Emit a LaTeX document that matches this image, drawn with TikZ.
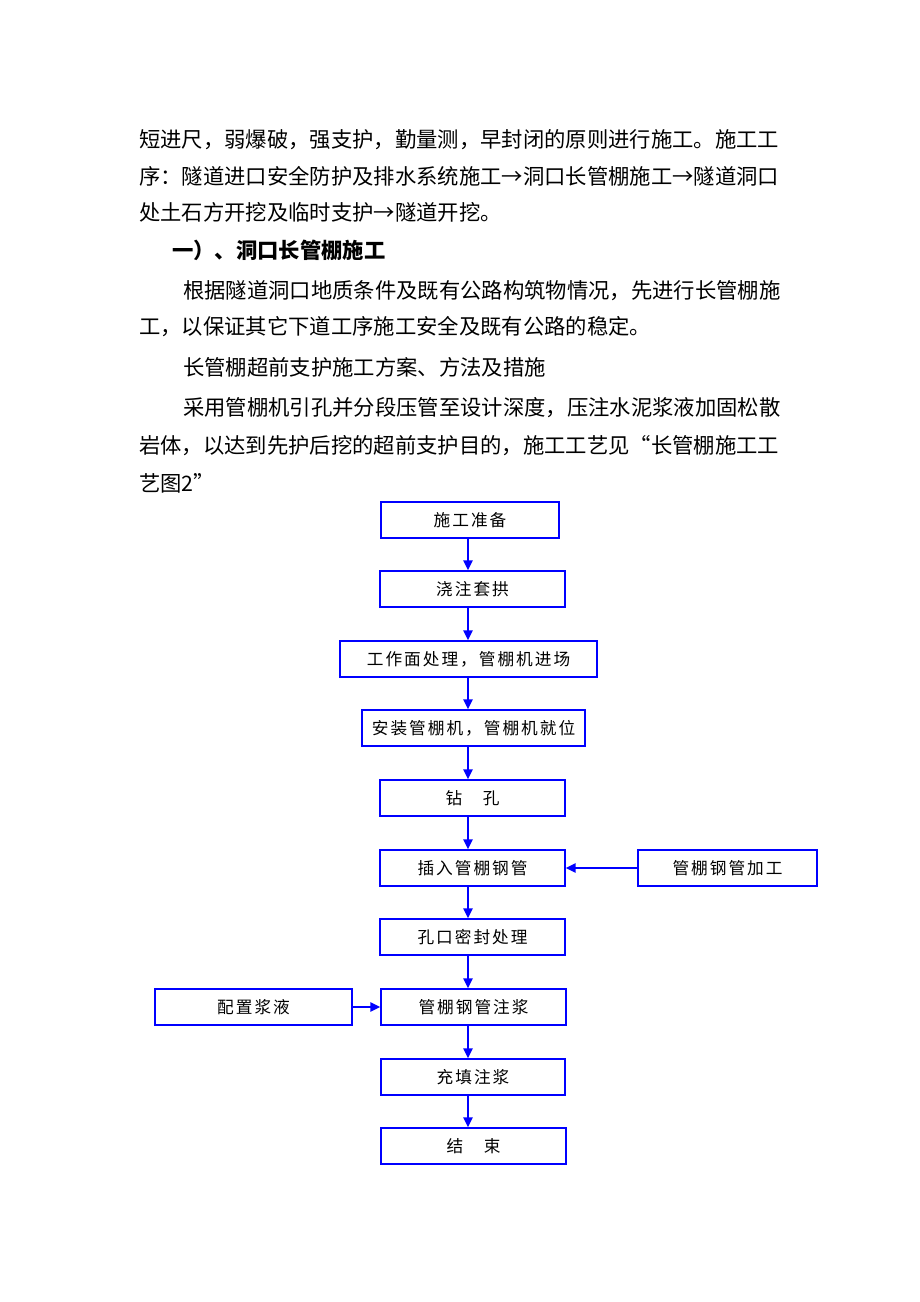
\documentclass[tikz,border=0pt]{standalone}
\usepackage{fontspec}
\setmainfont{Noto Sans CJK SC}
\usetikzlibrary{arrows.meta,positioning}
\definecolor{FlowBlue}{RGB}{0,0,255}
\newcommand{\bodyfont}{\fontsize{16}{16}\selectfont}
\newcommand{\boxfont}{\fontsize{12.5}{14}\selectfont\addfontfeatures{LetterSpace=12}}
\tikzset{
  procbox/.style={draw=FlowBlue,line width=1.1pt,minimum height=27pt,minimum width=#1*0.75pt,inner sep=0pt,font=\boxfont},
  procbox/.default=185,
  flowarrow/.style={-{Triangle[length=7.5pt,width=7pt]},FlowBlue,line width=1.4pt},
  bodyline/.style={anchor=west,inner sep=0pt,font=\bodyfont},
}

\begin{document}
\begin{tikzpicture}[x=0.75pt,y=-0.75pt]
      \useasboundingbox[fill=white] (0,0) rectangle (920,1302);
      % text above the chart
      \node[bodyline] (t1) at (139,140) {短进尺，弱爆破，强支护，勤量测，早封闭的原则进行施工。施工工};
      \node[bodyline] (t2) at (139,176) {序：隧道进口安全防护及排水系统施工→洞口长管棚施工→隧道洞口};
      \node[bodyline] (t3) at (139,212) {处土石方开挖及临时支护→隧道开挖。};
      \node[bodyline,font=\bodyfont\bfseries] (h1) at (172,250) {一）、洞口长管棚施工};
      \node[bodyline] (t4) at (183,291) {根据隧道洞口地质条件及既有公路构筑物情况，先进行长管棚施};
      \node[bodyline] (t5) at (139,327) {工，以保证其它下道工序施工安全及既有公路的稳定。};
      \node[bodyline] (t6) at (183,367) {长管棚超前支护施工方案、方法及措施};
      \node[bodyline] (t7) at (183,408) {采用管棚机引孔并分段压管至设计深度，压注水泥浆液加固松散};
      \node[bodyline] (t8) at (139,446) {岩体，以达到先护后挖的超前支护目的，施工工艺见“长管棚施工工};
      \node[bodyline] (t9) at (139,483) {艺图2”};
      % flow chart
      \coordinate (spine) at (468,0);
      \node[procbox=178] (prep) at (470,520) {施工准备};
      \node[procbox] (arch) at (472.5,589) {浇注套拱};
      \node[procbox=257] (face) at (468.5,659) {工作面处理，管棚机进场};
      \node[procbox=223] (rig) at (473.5,728) {安装管棚机，管棚机就位};
      \node[procbox] (drill) at (472.5,798) {钻　孔};
      \node[procbox] (insert) at (472.5,868) {插入管棚钢管};
      \node[procbox=179] (pipe) at (727.5,868) {管棚钢管加工};
      \node[procbox] (seal) at (472.5,937) {孔口密封处理};
      \node[procbox=197] (slurry) at (253.5,1007) {配置浆液};
      \node[procbox] (grout) at (473.5,1007) {管棚钢管注浆};
      \node[procbox=184] (fill) at (473,1077) {充填注浆};
      \node[procbox] (finish) at (473.5,1146) {结　束};
      \draw[flowarrow] (prep.south -| spine) -- (arch.north -| spine);
      \draw[flowarrow] (arch.south -| spine) -- (face.north -| spine);
      \draw[flowarrow] (face.south -| spine) -- (rig.north -| spine);
      \draw[flowarrow] (rig.south -| spine) -- (drill.north -| spine);
      \draw[flowarrow] (drill.south -| spine) -- (insert.north -| spine);
      \draw[flowarrow] (insert.south -| spine) -- (seal.north -| spine);
      \draw[flowarrow] (seal.south -| spine) -- (grout.north -| spine);
      \draw[flowarrow] (grout.south -| spine) -- (fill.north -| spine);
      \draw[flowarrow] (fill.south -| spine) -- (finish.north -| spine);
      \draw[flowarrow] (pipe.west) -- (insert.east);
      \draw[flowarrow] (slurry.east) -- (grout.west);
    \end{tikzpicture}
\end{document}
